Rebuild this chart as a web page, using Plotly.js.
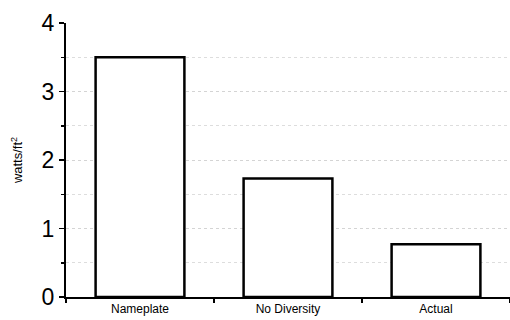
<!DOCTYPE html>
<html><head><meta charset="utf-8">
<script src="https://cdn.plot.ly/plotly-3.0.1.min.js"></script>
<style>html,body{margin:0;padding:0;background:#fff;}#chart{width:510px;height:320px;}</style>
</head><body><div id="chart"></div>
<script>
const categories = ["Nameplate", "No Diversity", "Actual"];
const values = [3.5, 1.73, 0.77];
const yTickVals = [0, 1, 2, 3, 4];

Plotly.newPlot('chart', [{
  type: 'bar',
  x: categories,
  y: values,
  width: 0.6,
  marker: {color: '#ffffff', line: {color: '#000000', width: 2.5}},
  hoverinfo: 'none'
}], {
  width: 510, height: 320,
  margin: {l: 66, r: 0, t: 23, b: 23, pad: 0},
  paper_bgcolor: '#fff', plot_bgcolor: '#fff',
  showlegend: false,
  font: {family: 'Arial, Liberation Sans, sans-serif', color: '#000'},
  xaxis: {
    range: [-0.5, 2.5],
    showline: true, linecolor: '#000', linewidth: 2,
    ticks: 'outside', tickson: 'boundaries', ticklen: 4, tickcolor: '#000', tickwidth: 2,
    tickfont: {size: 12, color: '#000'},
    showgrid: false, zeroline: false
  },
  yaxis: {
    range: [0, 4],
    tickvals: yTickVals,
    showline: true, linecolor: '#000', linewidth: 2,
    ticks: 'outside', ticklen: 5, tickcolor: '#000', tickwidth: 1.5,
    tickfont: {size: 23, color: '#000'},
    showgrid: true, gridcolor: '#d4d4d4', griddash: 'dot', gridwidth: 1,
    minor: {dtick: 0.5, ticks: 'outside', ticklen: 3, tickcolor: '#000', showgrid: true, gridcolor: '#dddddd', griddash: 'dot'},
    zeroline: false,
    title: {text: 'watts/ft<sup>2</sup>', font: {size: 13, color: '#000'}, standoff: 16}
  }
}, {staticPlot: true, displayModeBar: false});
</script></body></html>
